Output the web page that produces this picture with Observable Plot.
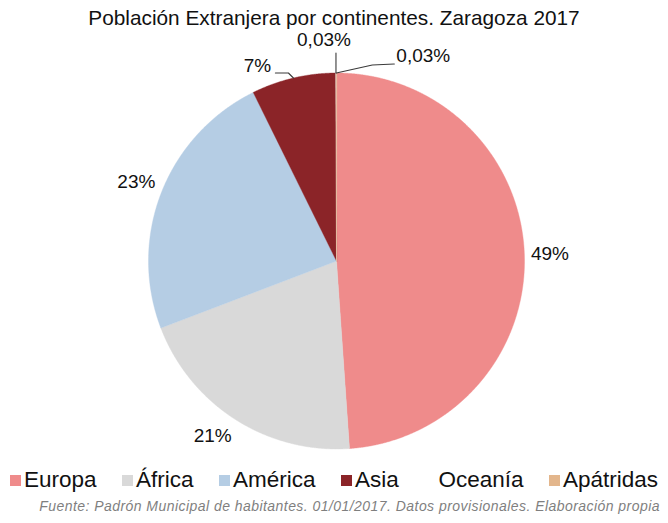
<!DOCTYPE html>
<html>
<head>
<meta charset="utf-8">
<script src="https://cdn.jsdelivr.net/npm/d3@7"></script>
<script src="https://cdn.jsdelivr.net/npm/@observablehq/plot@0.6"></script>
<style>
  html, body { margin: 0; padding: 0; background: #fff; }
  body { width: 668px; height: 523px; overflow: hidden; font-family: "Liberation Sans", Arial, sans-serif; }
  #title { height: 26px; line-height: 36px; text-align: center; font-size: 20.8px; color: #111; white-space: nowrap; position: relative; z-index: 1; }
  #chart svg { display: block; }
  #legend { height: 40px; display: flex; justify-content: center; align-items: center; gap: 25.5px; font-size: 22.5px; color: #111; }
  #legend .item { display: flex; align-items: center; }
  #legend .sw { width: 11px; height: 11px; margin-right: 3px; }
  #caption { height: 23px; line-height: 12px; text-align: right; padding-right: 8px; font-size: 14px; letter-spacing: 0.45px; font-style: italic; color: #7f7f7f; white-space: nowrap; }
</style>
</head>
<body>
<div id="title">Población Extranjera por continentes. Zaragoza 2017</div>
<div id="chart"></div>
<div id="legend"></div>
<div id="caption">Fuente: Padrón Municipal de habitantes. 01/01/2017. Datos provisionales. Elaboración propia</div>
<script>
// ---- data ----
const names  = ["Europa", "África", "América", "Asia", "Oceanía", "Apátridas"];
const values = [48.9, 20.3, 23.5, 7.24, 0.03, 0.03];
const labels = ["49%", "21%", "23%", "7%", "0,03%", "0,03%"];
const colors = ["#ef8b8b", "#d9d9d9", "#b5cde4", "#8b2428", "#ffffff", "#e3b68c"];

// ---- layout ----
const W = 668, H = 434, R = 188, CX = 336, CY = 234.5;
const xDomain = [-CX / R, (W - CX) / R];
const yDomain = [-(H - CY) / R, CY / R];
const LABEL_FONT = 19;

const arcs = d3.pie().sort(null).value(d => d)(values);

// slice polygons in unit-radius coordinates
const slicePts = [];
arcs.forEach((a, i) => {
  const n = Math.max(2, Math.ceil((a.endAngle - a.startAngle) / 0.004));
  slicePts.push({name: names[i], x: 0, y: 0});
  for (let k = 0; k <= n; k++) {
    const t = a.startAngle + (a.endAngle - a.startAngle) * k / n;
    slicePts.push({name: names[i], x: Math.sin(t), y: Math.cos(t)});
  }
});

// label measurement
const ctx = document.createElement("canvas").getContext("2d");
ctx.font = `${LABEL_FONT}px "Liberation Sans"`;
const clamp = v => Math.max(-1, Math.min(1, v));

const bigLabels = [];
const smallLabels = [];
const leaders = [];
// pixel offsets for small slices (label center, leader polyline) relative to the arc point
const smallLayout = {
  3: {label: [-36, -12], anchor: "middle", leader: [[0, 0], [-5, -5], [-18, -5]]},
  4: {label: [-12, -33], anchor: "middle", leader: [[0, 0], [0, -20]]},
  5: {label: [60, -17], anchor: "start", leader: [[0, 0], [36, -8], [58, -9]]}
};
arcs.forEach((a, i) => {
  const mid = (a.startAngle + a.endAngle) / 2;
  const s = Math.sin(mid), c = Math.cos(mid);
  if (smallLayout[i]) {
    const L = smallLayout[i];
    smallLabels.push({text: labels[i], anchor: L.anchor,
      x: s + L.label[0] / R, y: c - L.label[1] / R});
    L.leader.forEach(p => leaders.push({id: i, x: s + p[0] / R, y: c - p[1] / R}));
  } else {
    const r = 1.035;
    const w = ctx.measureText(labels[i]).width, h = 22;
    const ox = clamp(s * 2) * w / 2, oy = clamp(c * 2) * h / 2;
    bigLabels.push({text: labels[i], x: r * s + ox / R, y: r * c + oy / R});
  }
});

const chart = Plot.plot({
  width: W, height: H, margin: 0,
  x: {domain: xDomain, axis: null},
  y: {domain: yDomain, axis: null},
  color: {domain: names, range: colors},
  style: {fontFamily: '"Liberation Sans", Arial, sans-serif', background: "transparent"},
  marks: [
    Plot.line(slicePts, {x: "x", y: "y", z: "name", fill: "name", stroke: "name", strokeWidth: 0.4, curve: "linear-closed"}),
    Plot.line(leaders, {x: "x", y: "y", z: "id", stroke: "#3a3a3a", strokeWidth: 1.1}),
    Plot.text(bigLabels, {x: "x", y: "y", text: "text", fontSize: LABEL_FONT, fill: "#111"}),
    Plot.text(smallLabels.filter(d => d.anchor === "middle"), {x: "x", y: "y", text: "text", fontSize: LABEL_FONT, fill: "#111"}),
    Plot.text(smallLabels.filter(d => d.anchor === "start"), {x: "x", y: "y", text: "text", fontSize: LABEL_FONT, fill: "#111", textAnchor: "start"})
  ]
});
document.getElementById("chart").appendChild(chart);

// legend
const legend = document.getElementById("legend");
names.forEach((n, i) => {
  const item = document.createElement("div");
  item.className = "item";
  const sw = document.createElement("span");
  sw.className = "sw";
  sw.style.background = colors[i];
  const tx = document.createElement("span");
  tx.textContent = n;
  item.appendChild(sw); item.appendChild(tx);
  legend.appendChild(item);
});
</script>
</body>
</html>
